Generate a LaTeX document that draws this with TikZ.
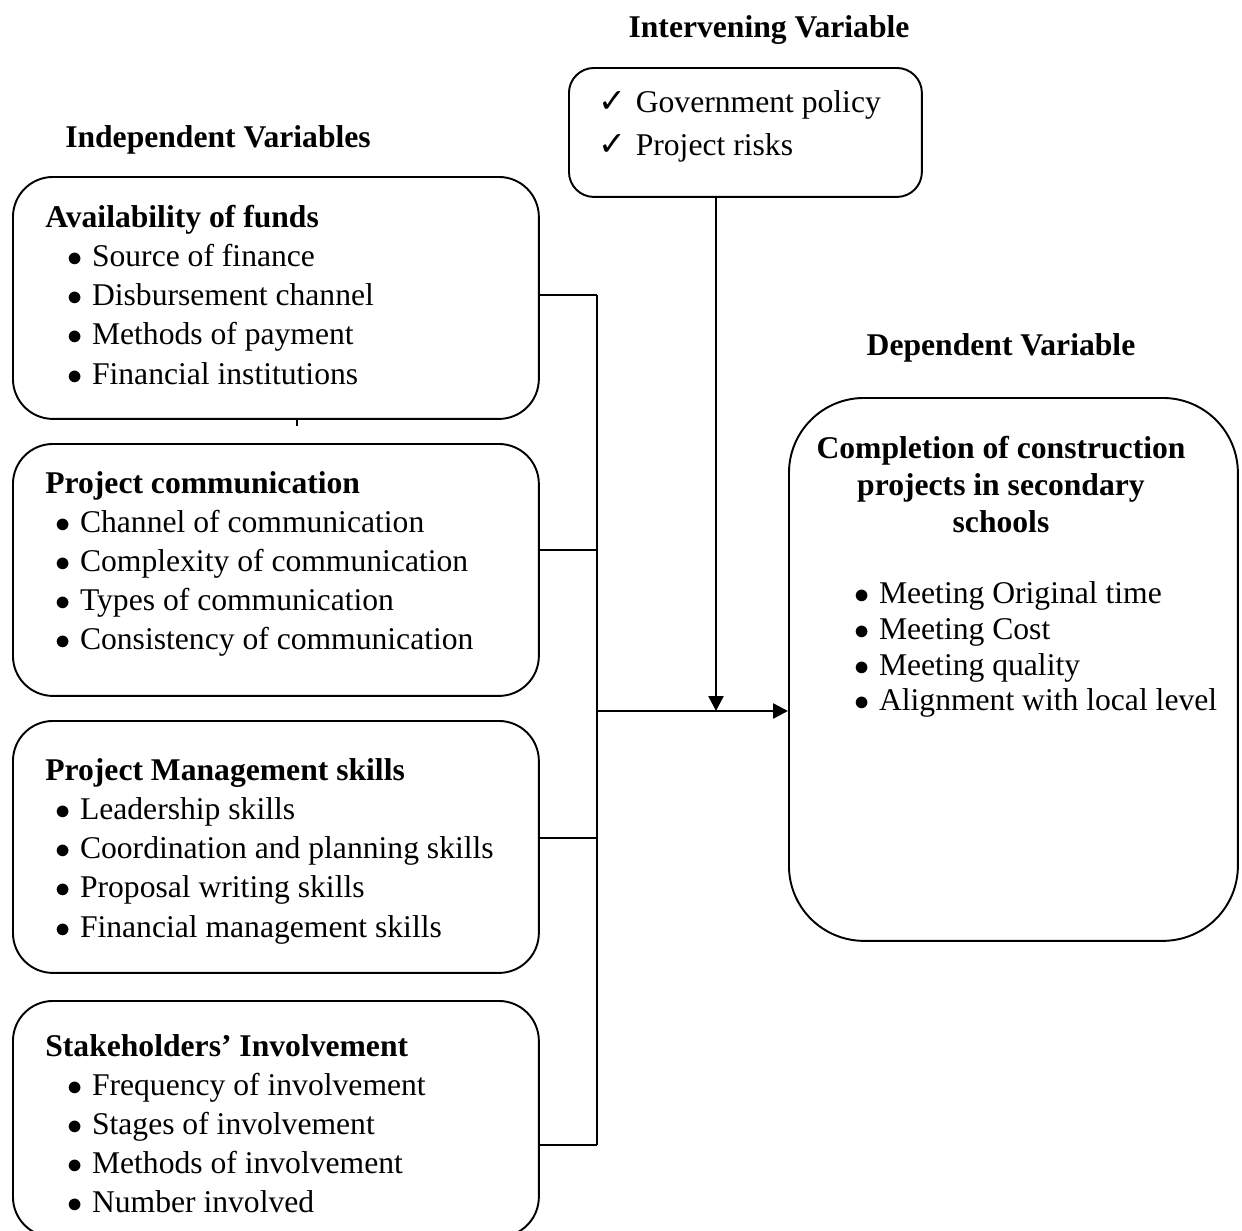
\documentclass[tikz,border=0pt]{standalone}
\usepackage{fontspec}
\setmainfont{Liberation Serif}
\newfontfamily\symfont{DejaVu Sans}
\usetikzlibrary{arrows.meta}

\tikzset{
  box/.style={
    draw,
    line width=1.1pt,
    rounded corners=0.8cm,
    anchor=north west,
    inner sep=0pt
  },
  head/.style={
    font=\fontsize{18}{22}\selectfont\bfseries,
    anchor=base west,
    inner sep=0pt
  },
  item/.style={
    font=\fontsize{18}{22}\selectfont,
    anchor=base west,
    inner sep=0pt
  },
  link/.style={
    line width=1.4pt
  },
  arrow/.style={
    line width=1.4pt,
    -{Triangle[length=0.3cm, width=0.3cm]}
  }
}
\newcommand\Bul{$\bullet$\hspace{0.3em}}
\newcommand\Chk{{\symfont\fontsize{19}{22}\selectfont ✓}\hspace{0.3em}}

\begin{document}
\begin{tikzpicture}[x=0.02cm, y=-0.02cm]
        \useasboundingbox (0,0) rectangle (1242,1231);

        % headings
        \node[head, anchor=base] (hInter) at (769,37) {Intervening Variable};
        \node[head, anchor=base] (hIndep) at (218,147) {Independent Variables};
        \node[head, anchor=base] (hDep) at (1001,355) {Dependent Variable};

        % boxes
        \node[box, minimum width=10.52cm, minimum height=4.84cm] (fund) at (12,176) {};
        \node[box, minimum width=10.52cm, minimum height=5.04cm] (comm) at (12,443) {};
        \node[box, minimum width=10.52cm, minimum height=5.04cm] (skill) at (12,720) {};
        \node[box, minimum width=10.52cm, minimum height=4.72cm] (stake) at (12,1000) {};
        \node[box, rounded corners=0.5cm, minimum width=7.06cm, minimum height=2.58cm] (inter) at (568,67) {};
        \node[box, rounded corners=1.5cm, minimum width=8.98cm, minimum height=10.86cm] (dep) at (788,397) {};

        % intervening
        \node[item] (i1) at (598,112) {\Chk Government policy};
        \node[item] (i2) at (598,155) {\Chk Project risks};

        % availability of funds
        \node[head] (f0) at (45,227) {Availability of funds};
        \node[item] (f1) at (67,266) {\Bul Source of finance};
        \node[item] (f2) at (67,305) {\Bul Disbursement channel};
        \node[item] (f3) at (67,344) {\Bul Methods of payment};
        \node[item] (f4) at (67,384) {\Bul Financial institutions};

        % project communication
        \node[head] (c0) at (45,493) {Project communication};
        \node[item] (c1) at (55,532) {\Bul Channel of communication};
        \node[item] (c2) at (55,571) {\Bul Complexity of communication};
        \node[item] (c3) at (55,610) {\Bul Types of communication};
        \node[item] (c4) at (55,649) {\Bul Consistency of communication};

        % management skills
        \node[head] (s0) at (45,780) {Project Management skills};
        \node[item] (s1) at (55,819) {\Bul Leadership skills};
        \node[item] (s2) at (55,858) {\Bul Coordination and planning skills};
        \node[item] (s3) at (55,897) {\Bul Proposal writing skills};
        \node[item] (s4) at (55,937) {\Bul Financial management skills};

        % stakeholders
        \node[head] (k0) at (45,1056) {Stakeholders’ Involvement};
        \node[item] (k1) at (67,1095) {\Bul Frequency of involvement};
        \node[item] (k2) at (67,1134) {\Bul Stages of involvement};
        \node[item] (k3) at (67,1173) {\Bul Methods of involvement};
        \node[item] (k4) at (67,1212) {\Bul Number involved};

        % dependent
        \node[head, anchor=base] (d0) at (1001,458) {Completion of construction};
        \node[head, anchor=base] (d1) at (1001,495) {projects in secondary};
        \node[head, anchor=base] (d2) at (1001,532) {schools};
        \node[item] (d3) at (854,603) {\Bul Meeting Original time};
        \node[item] (d4) at (854,639) {\Bul Meeting Cost};
        \node[item] (d5) at (854,675) {\Bul Meeting quality};
        \node[item] (d6) at (854,710) {\Bul Alignment with local level};

        % connectors
        \coordinate (j1) at (597,295);
        \coordinate (j2) at (597,550);
        \coordinate (j3) at (597,838);
        \coordinate (j4) at (597,1145);
        \coordinate (j0) at (597,711);
        \coordinate (jv) at (716,711);
        \coordinate (tick) at (297,420);

        \draw[link] (j1 -| fund.east) -- (j1);
        \draw[link] (j2 -| comm.east) -- (j2);
        \draw[link] (j3 -| skill.east) -- (j3);
        \draw[link] (j4 -| stake.east) -- (j4);
        \draw[link] (j1) -- (j4);
        \draw[arrow] (j0) -- (j0 -| dep.west);
        \draw[arrow] (jv |- inter.south) -- (jv);
        \draw[line width=0.8pt] (tick) --++ (0,6);
\end{tikzpicture}
\end{document}
